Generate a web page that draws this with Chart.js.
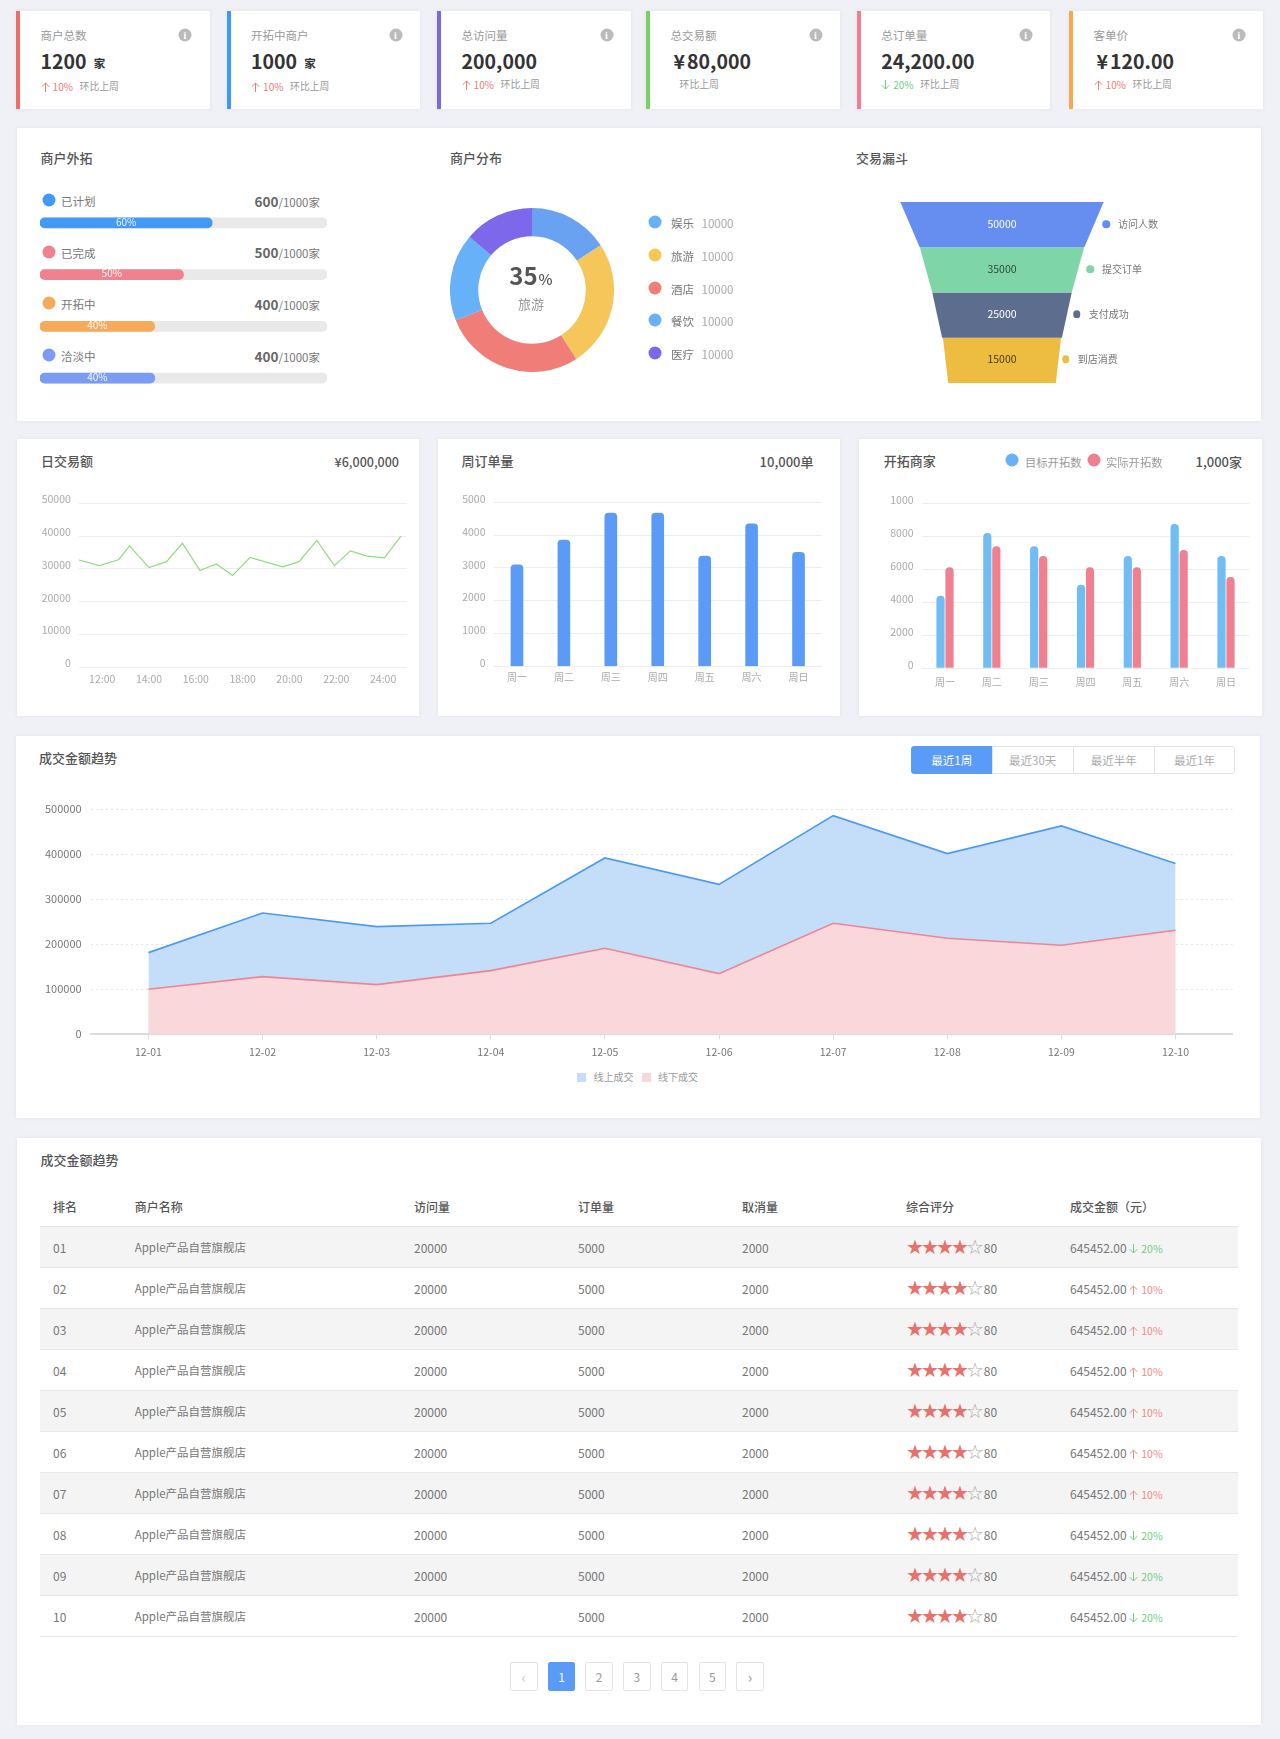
<!DOCTYPE html>
<html lang="zh">
<head>
<meta charset="utf-8">
<title>商户数据看板</title>
<script src="https://cdn.jsdelivr.net/npm/chart.js@4"></script>
<style>
  html, body { margin: 0; padding: 0; }
  body { position: relative; width: 1280px; height: 1739px; overflow: hidden; background: #eff1f6;
         font-family: "Noto Sans CJK SC", "Noto Sans", sans-serif; color: #777; }
  .box { position: absolute; background: #fff; box-shadow: 0 0 4px rgba(60,70,90,.08); }
  .t { position: absolute; white-space: nowrap; line-height: 1; transform: translateY(-50%); }
  .dot { position: absolute; border-radius: 50%; transform: translate(-50%, -50%); }
  .head { font-size: 13px; font-weight: 500; color: #555; }
  .info { position: absolute; width: 13px; height: 13px; border-radius: 50%; background: #bbb; color: #fff;
          font: bold 10px/13px "Liberation Serif", serif; text-align: center; transform: translate(-50%, -50%); }
  canvas { position: absolute; }
  .btn { position: absolute; box-sizing: border-box; text-align: center; background: #fff; border: 1px solid #e3e3e3; color: #aaa; }
  .btn.on { background: #5b9bf8; border-color: #5b9bf8; color: #fff; }
  table { position: absolute; left: 40.4px; top: 1188px; width: 1197.6px; border-collapse: collapse; table-layout: fixed; font-size: 12px; color: #777; }
  th { height: 36px; padding: 0 0 2px; text-align: left; font-weight: 500; color: #555; border-bottom: 1px solid #e6e6e6; }
  td { height: 40px; padding: 0; border-bottom: 1px solid #e8e8e8; }
  td.name { font-size: 11.5px; }
  tbody tr:nth-child(odd) { background: #f4f4f5; }
  th:first-child, td:first-child { padding-left: 12.6px; }
  .stars { font-family: "DejaVu Sans"; font-size: 20px; letter-spacing: -2.9px; line-height: 1; color: #e8716c; vertical-align: -1px; }
  .stars i { font-style: normal; color: #a9a9a9; }
  .up { color: #f08a85; font-size: 10.5px; }
  .down { color: #6ccf84; font-size: 10.5px; }
  .arrow { display: inline-block; vertical-align: -1px; margin-right: 3px; }
  .arrow.flip { transform: scaleY(-1); }
</style>
</head>
<body>
<script>
// --- Data ---

const statTitles = ['商户总数', '开拓中商户', '总访问量', '总交易额', '总订单量', '客单价'];
const statValues = ['1200', '1000', '200,000', '¥80,000', '24,200.00', '¥120.00'];
const statUnits = ['家', '家', '', '', '', ''];
const statChanges = ['10%', '10%', '10%', '', '20%', '10%'];
const statDirs = ['up', 'up', 'up', '', 'down', 'up'];
const statColors = ['#ee6e68', '#3f97fb', '#7b66ec', '#7ad163', '#f08090', '#f4a950'];

const progressLabels = ['已计划', '已完成', '开拓中', '洽淡中'];
const progressValues = [600, 500, 400, 400];
const progressMax = 1000;
const progressColors = ['#4299f6', '#f08290', '#f5ab5a', '#7b9cf2'];

const shareLabels = ['娱乐', '旅游', '酒店', '餐饮', '医疗'];
const shareSlices = [15.8, 25.1, 28.1, 17.2, 13.8];
const shareAmounts = ['10000', '10000', '10000', '10000', '10000'];
const shareColors = ['#69a2f0', '#f6c65b', '#f07d78', '#66b1f8', '#7d68ec'];
const shareDots = ['#66b1f8', '#f9c653', '#f07d78', '#66b1f8', '#7d68ec'];

const funnelLabels = ['访问人数', '提交订单', '支付成功', '到店消费'];
const funnelValues = [50000, 35000, 25000, 15000];
const funnelTopWidths = [50000, 40400, 34300, 29060];
const funnelBottomWidths = [40500, 34300, 29460, 26460];
const funnelColors = ['#658ef0', '#7ed5a8', '#5d6d8e', '#edbd41'];
const funnelTextColors = ['#ffffff', '#33463c', '#ffffff', '#4a3c12'];

const dayHours = [11.01, 11.88, 12.7, 13.17, 14, 14.75, 15.43, 16.18, 16.87, 17.57, 18.32, 19.71, 20.41, 21.17, 21.92, 22.6, 23.32, 24.06, 24.76];
const dayAmounts = [32700, 31000, 32800, 37000, 30400, 32200, 37800, 29500, 31500, 28000, 33500, 30600, 32200, 38700, 31000, 35500, 33900, 33400, 40000];
const dayHourTicks = [12, 14, 16, 18, 20, 22, 24];

const weekDays = ['周一', '周二', '周三', '周四', '周五', '周六', '周日'];
const weekOrders = [3090, 3850, 4675, 4675, 3364, 4340, 3476];
const targetMerchants = [4413, 8218, 7409, 5081, 6822, 8765, 6822];
const actualMerchants = [6134, 7409, 6822, 6134, 6134, 7186, 5547];
const merchantTickLabels = ['0', '2000', '4000', '6000', '8000', '1000'];

const trendDates = ['12-01', '12-02', '12-03', '12-04', '12-05', '12-06', '12-07', '12-08', '12-09', '12-10'];
const trendOnline = [181500, 269600, 239300, 246700, 391900, 333300, 485900, 401500, 463000, 379300];
const trendOffline = [100000, 128100, 110400, 141500, 191100, 134800, 246700, 213300, 197800, 231100];
const trendRanges = ['最近1周', '最近30天', '最近半年', '最近1年'];

const tableHeads = ['排名', '商户名称', '访问量', '订单量', '取消量', '综合评分', '成交金额（元）'];
const tableChanges = ['20%', '10%', '10%', '10%', '10%', '10%', '10%', '20%', '20%', '20%'];
const tableDirs = ['down', 'up', 'up', 'up', 'up', 'up', 'up', 'down', 'down', 'down'];
const pageLabels = ['‹', '1', '2', '3', '4', '5', '›'];

// --- Page helpers ---

function arrow(dir) {
  return `<svg class="arrow${dir === 'down' ? ' flip' : ''}" width="9" height="10" viewBox="0 0 9 10">` +
    '<path d="M4.5 10V1M.7 4.8 4.5 1l3.8 3.8" fill="none" stroke="currentColor"/></svg>';
}

function box(x, y, w, h) {
  const el = document.createElement('div');
  el.className = 'box';
  el.style.cssText = `left:${x}px;top:${y}px;width:${w}px;height:${h}px`;
  document.body.appendChild(el);
  return el;
}

// y is the vertical centre of the text; align 'r' makes x the right edge
function text(x, y, str, css, align) {
  const el = document.createElement('div');
  el.className = 't';
  el.innerHTML = str;
  el.style.cssText = (align === 'r' ? `right:${1280 - x}px` : `left:${x}px`) + `;top:${y}px;` + (css || '');
  document.body.appendChild(el);
  return el;
}

function head(x, y, str) {
  text(x, y, str).classList.add('head');
}

function dot(x, y, d, color) {
  const el = document.createElement('div');
  el.className = 'dot';
  el.style.cssText = `left:${x}px;top:${y}px;width:${d}px;height:${d}px;background:${color}`;
  document.body.appendChild(el);
}

function canvas(x, y, w, h) {
  const c = document.createElement('canvas');
  c.width = w;
  c.height = h;
  c.style.cssText = `left:${x}px;top:${y}px;width:${w}px;height:${h}px`;
  document.body.appendChild(c);
  return c;
}

// --- Chart helpers ---

Chart.defaults.font.family = '"Noto Sans CJK SC", "Noto Sans", sans-serif';
Chart.defaults.animation = false;
Chart.defaults.responsive = false;
Chart.defaults.plugins.legend.display = false;
Chart.defaults.plugins.tooltip.enabled = false;

function tickFont(size, color) {
  return { font: { size }, color, maxRotation: 0, autoSkip: false };
}

// pins the plot area so it lands on the same pixels as the reference
function fixWidth(w) { return s => { s.width = w; }; }
function fixHeight(h) { return s => { s.height = h; }; }

// --- Stat cards ---

const statLefts = [16, 226.5, 437, 646, 856.6, 1069];
const statInfoX = [185, 395.5, 606.5, 815.5, 1025.7, 1239];

statTitles.forEach((title, i) => {
  const x = statLefts[i];
  const el = box(x, 11, 193.5, 98);
  el.style.borderLeft = '4px solid ' + statColors[i];
  el.style.boxSizing = 'border-box';
  const tx = x + 24.6;
  text(tx, 36, title, 'font-size:11.5px;color:#999');
  const info = document.createElement('div');
  info.className = 'info';
  info.textContent = 'i';
  info.style.left = statInfoX[i] + 'px';
  info.style.top = '35px';
  document.body.appendChild(info);

  const val = statValues[i].replace('¥', '<span style="margin:0 2px 0 3px">¥</span>');
  let valHtml = val;
  if (statUnits[i]) valHtml += `<span style="font-size:11.5px;margin-left:7px;vertical-align:1px">${statUnits[i]}</span>`;
  text(tx, 61, valHtml, 'font-size:19.5px;font-weight:700;color:#333');

  const subY = i < 2 ? 87 : 85;
  if (statChanges[i]) {
    const color = statDirs[i] === 'up' ? '#f07b75' : '#6ccf84';
    text(tx, subY, arrow(statDirs[i]) + statChanges[i], `font-size:10px;color:${color}`);
    text(tx + 39, subY, '环比上周', 'font-size:9.8px;color:#999');
  } else {
    text(tx + 9, subY, '环比上周', 'font-size:9.8px;color:#999');
  }
});

// --- Overview panel ---

box(17, 128, 1244, 293);
head(40.4, 156.5, '商户外拓');
head(450, 156.5, '商户分布');
head(856, 156.5, '交易漏斗');

progressLabels.forEach((label, i) => {
  const y = 200 + i * 51.7;
  dot(48.6, y, 13, progressColors[i]);
  text(61, y + 2, label, 'font-size:11.5px;color:#777');
  text(320, y + 1.5, `<span style="font-size:13.5px;font-weight:700;color:#666">${progressValues[i]}</span>/${progressMax}家`, 'font-size:11.5px;color:#777', 'r');
});

const progressText = {
  id: 'progressText',
  afterDatasetsDraw(chart) {
    const ctx = chart.ctx;
    ctx.save();
    ctx.font = '10px "Noto Sans CJK SC"';
    ctx.fillStyle = 'rgba(255,255,255,.92)';
    ctx.textAlign = 'center';
    ctx.textBaseline = 'middle';
    chart.getDatasetMeta(0).data.forEach((bar, i) => {
      ctx.fillText(Math.round(progressValues[i] / progressMax * 100) + '%', (bar.x + bar.base) / 2, bar.y - 1);
    });
    ctx.restore();
  }
};

new Chart(canvas(40.4, 197, 287, 207), {
  type: 'bar',
  data: {
    labels: progressLabels,
    datasets: [
      { data: progressValues, backgroundColor: progressColors, grouped: false, barThickness: 10, borderRadius: 5, borderSkipped: false },
      { data: progressLabels.map(() => progressMax), backgroundColor: '#e9e9e9', grouped: false, barThickness: 10, borderRadius: 5, borderSkipped: false }
    ]
  },
  options: {
    indexAxis: 'y',
    scales: {
      x: { display: false, min: 0, max: progressMax },
      y: { display: false }
    }
  },
  plugins: [progressText]
});

new Chart(canvas(450, 208, 164, 164), {
  type: 'doughnut',
  data: {
    labels: shareLabels,
    datasets: [{ data: shareSlices, backgroundColor: shareColors, borderWidth: 0 }]
  },
  options: { cutout: '65.5%' }
});

text(531, 275, '35<span style="font-size:15px;font-weight:500;margin-left:1px">%</span>', 'transform:translate(-50%,-50%);font-size:24px;font-weight:700;color:#555');
text(531, 303, '旅游', 'transform:translate(-50%,-50%);font-size:13px;color:#999');

const shareRows = [221.5, 254.7, 288, 320, 353];
shareLabels.forEach((label, i) => {
  dot(654.7, shareRows[i], 13, shareDots[i]);
  text(671, shareRows[i] + 2, label, 'font-size:11.5px;color:#777');
  text(701.6, shareRows[i] + 2, shareAmounts[i], 'font-size:11.5px;color:#aaa');
});

const funnelText = {
  id: 'funnelText',
  afterDatasetsDraw(chart) {
    const ctx = chart.ctx;
    ctx.save();
    ctx.font = '10.5px "Noto Sans CJK SC"';
    ctx.textAlign = 'center';
    ctx.textBaseline = 'middle';
    funnelValues.forEach((v, i) => {
      ctx.fillStyle = funnelTextColors[i];
      ctx.fillText(String(v), chart.scales.x.getPixelForValue(0), chart.scales.y.getPixelForValue(i + 0.5) - 1);
    });
    ctx.restore();
  }
};

new Chart(canvas(880, 202, 244, 181), {
  type: 'scatter',
  data: {
    datasets: funnelValues.map((v, i) => ({
      data: [
        { x: -funnelTopWidths[i] / 2, y: i },
        { x: funnelTopWidths[i] / 2, y: i },
        { x: funnelBottomWidths[i] / 2, y: i + 1 },
        { x: -funnelBottomWidths[i] / 2, y: i + 1 }
      ],
      showLine: true,
      fill: 'shape',
      backgroundColor: funnelColors[i],
      borderWidth: 0,
      pointRadius: 0
    }))
  },
  options: {
    scales: {
      x: { display: false, min: -30000, max: 30000 },
      y: { display: false, min: 0, max: 4, reverse: true }
    }
  },
  plugins: [funnelText]
});

const funnelDotX = [1106, 1090, 1076.7, 1065.7];
const funnelRows = [224, 269, 314, 359];
funnelLabels.forEach((label, i) => {
  dot(funnelDotX[i], funnelRows[i], 7.5, funnelColors[i]);
  text(funnelDotX[i] + 12, funnelRows[i], label, 'font-size:10px;color:#777');
});

// --- Small charts ---

box(17, 439, 402, 277);
head(41, 460, '日交易额');
text(399, 461.7, '¥6,000,000', 'font-size:12.5px;font-weight:500;color:#555', 'r');

new Chart(canvas(40, 480, 372, 220), {
  type: 'scatter',
  data: {
    datasets: [{
      data: dayHours.map((h, i) => ({ x: h, y: dayAmounts[i] })),
      showLine: true,
      borderColor: '#8fdc7e',
      borderWidth: 1.2,
      pointRadius: 0
    }]
  },
  options: {
    layout: { padding: { top: 23.3, right: 5.5 } },
    scales: {
      x: {
        min: 11, max: 25,
        grid: { display: false, drawTicks: false }, border: { display: false },
        afterFit: fixHeight(32.7),
        afterBuildTicks: axis => { axis.ticks = dayHourTicks.map(value => ({ value })); },
        ticks: { ...tickFont(10.5, '#aaa'), padding: 5, callback: v => v + ':00' }
      },
      y: {
        min: 0, max: 50000,
        grid: { color: '#eeeeee', drawTicks: false }, border: { display: false },
        afterFit: fixWidth(38.8),
        ticks: { ...tickFont(10.5, '#aaa'), stepSize: 10000, padding: 8, labelOffset: -4, callback: v => String(v) }
      }
    }
  }
});

box(438, 439, 401.6, 277);
head(461.6, 460, '周订单量');
text(813.5, 460.5, '10,000单', 'font-size:13px;font-weight:500;color:#555', 'r');

new Chart(canvas(450, 480, 380, 220), {
  type: 'bar',
  data: {
    labels: weekDays,
    datasets: [{ data: weekOrders, backgroundColor: '#5b9bf8', barThickness: 12, borderRadius: { topLeft: 4, topRight: 4 }, borderSkipped: 'bottom' }]
  },
  options: {
    layout: { padding: { top: 22.3, right: 8 } },
    scales: {
      x: {
        grid: { display: false, drawTicks: false }, border: { display: false },
        afterFit: fixHeight(33.7),
        ticks: { ...tickFont(10, '#aaa'), padding: 5 }
      },
      y: {
        min: 0, max: 5000,
        grid: { color: '#eeeeee', drawTicks: false }, border: { display: false },
        afterFit: fixWidth(43.5),
        ticks: { ...tickFont(10.5, '#aaa'), stepSize: 1000, padding: 8, labelOffset: -3.3, callback: v => String(v) }
      }
    }
  }
});

box(859, 439, 402.6, 277);
head(883.7, 460, '开拓商家');
dot(1011.8, 460.3, 13, '#66b1f8');
text(1025, 462.5, '目标开拓数', 'font-size:11.3px;color:#999');
dot(1094, 460.3, 13, '#f0808f');
text(1106, 462.5, '实际开拓数', 'font-size:11.3px;color:#999');
text(1242, 460.5, '1,000家', 'font-size:13px;font-weight:500;color:#555', 'r');

new Chart(canvas(880, 480, 378, 222), {
  type: 'bar',
  data: {
    labels: weekDays,
    datasets: [
      { data: targetMerchants, backgroundColor: '#6fbdf2', categoryPercentage: 0.385, barPercentage: 0.91, borderRadius: { topLeft: 4, topRight: 4 }, borderSkipped: 'bottom' },
      { data: actualMerchants, backgroundColor: '#f0808f', categoryPercentage: 0.385, barPercentage: 0.91, borderRadius: { topLeft: 4, topRight: 4 }, borderSkipped: 'bottom' }
    ]
  },
  options: {
    layout: { padding: { top: 23.7, right: 8.6 } },
    scales: {
      x: {
        grid: { display: false, drawTicks: false }, border: { display: false },
        afterFit: fixHeight(33.7),
        ticks: { ...tickFont(10, '#aaa'), padding: 8 }
      },
      y: {
        min: 0, max: 10000,
        grid: { color: '#eeeeee', drawTicks: false }, border: { display: false },
        afterFit: fixWidth(41.6),
        ticks: { ...tickFont(10.5, '#aaa'), stepSize: 2000, padding: 8, labelOffset: -3.7, callback: (v, i) => merchantTickLabels[i] }
      }
    }
  }
});

// --- Trend chart ---

box(16.3, 736, 1243.3, 382.3);
head(39, 757, '成交金额趋势');

trendRanges.forEach((label, i) => {
  const el = document.createElement('div');
  el.className = i === 0 ? 'btn on' : 'btn';
  el.textContent = label;
  el.style.cssText = `left:${911 + i * 81}px;top:746px;width:${i === 3 ? 81 : 81.5}px;height:28px;line-height:26px;font-size:11.5px`;
  if (i === 0) el.style.borderRadius = '3px 0 0 3px';
  if (i === 3) el.style.borderRadius = '0 3px 3px 0';
  document.body.appendChild(el);
});

new Chart(canvas(30, 785, 1210, 280), {
  type: 'line',
  data: {
    labels: trendDates,
    datasets: [
      { label: '线上成交', data: trendOnline, order: 2, fill: 'origin', borderColor: '#4a9af5', backgroundColor: '#c4def9', borderWidth: 1.6, pointRadius: 0, tension: 0 },
      { label: '线下成交', data: trendOffline, order: 1, fill: 'origin', borderColor: '#ef8594', backgroundColor: '#f9d7da', borderWidth: 1.6, pointRadius: 0, tension: 0 }
    ]
  },
  options: {
    layout: { padding: { top: 24.3, right: 7.4 } },
    scales: {
      x: {
        offset: true,
        grid: { drawOnChartArea: false, tickLength: 5, tickColor: '#dddddd', offset: false },
        border: { color: '#dcdcdc', width: 2 },
        afterFit: fixHeight(30.7),
        ticks: { ...tickFont(10.5, '#777'), padding: 6 }
      },
      y: {
        min: 0, max: 500000,
        grid: { color: '#e6e6e6', drawTicks: false },
        border: { display: false, dash: [2, 3] },
        afterFit: fixWidth(61.4),
        ticks: { ...tickFont(11, '#777'), stepSize: 100000, padding: 9.8, callback: v => String(v) }
      }
    }
  }
});

const legendItems = [[577, '线上成交', '#c4def9'], [641.6, '线下成交', '#f9d7da']];
legendItems.forEach(([x, label, color]) => {
  const swatch = document.createElement('div');
  swatch.style.cssText = `position:absolute;left:${x}px;top:1072.5px;width:9px;height:9px;background:${color}`;
  document.body.appendChild(swatch);
  text(x + 16.5, 1077, label, 'font-size:10px;color:#999');
});

// --- Ranking table ---

box(17, 1138.3, 1244, 586.7);
head(40.4, 1159, '成交金额趋势');

let rows = '';
tableDirs.forEach((dir, i) => {
  const rank = String(i + 1).padStart(2, '0');
  rows += `<tr><td>${rank}</td><td class="name">Apple产品自营旗舰店</td><td>20000</td><td>5000</td><td>2000</td>` +
    `<td><span class="stars">★★★★<i>☆</i></span> 80</td>` +
    `<td>645452.00 <span class="${dir}">${arrow(dir)}${tableChanges[i]}</span></td></tr>`;
});
const table = document.createElement('table');
table.innerHTML = '<colgroup><col style="width:94.3px"><col style="width:279.3px"><col style="width:164px"><col style="width:164px"><col style="width:164px"><col style="width:164px"><col></colgroup>' +
  '<thead><tr>' + tableHeads.map(h => '<th>' + h + '</th>').join('') + '</tr></thead><tbody>' + rows + '</tbody>';
document.body.appendChild(table);

pageLabels.forEach((label, i) => {
  const el = document.createElement('div');
  el.className = label === '1' ? 'btn on' : 'btn';
  el.textContent = label;
  el.style.cssText = `left:${510 + i * 37.7}px;top:1661.5px;width:27.6px;height:29px;line-height:27px;font-size:${i === 0 || i === 6 ? 15 : 12}px;border-radius:2px;color:${label === '1' ? '#fff' : label === '‹' ? '#ccc' : '#999'}`;
  document.body.appendChild(el);
});
</script>
</body>
</html>
